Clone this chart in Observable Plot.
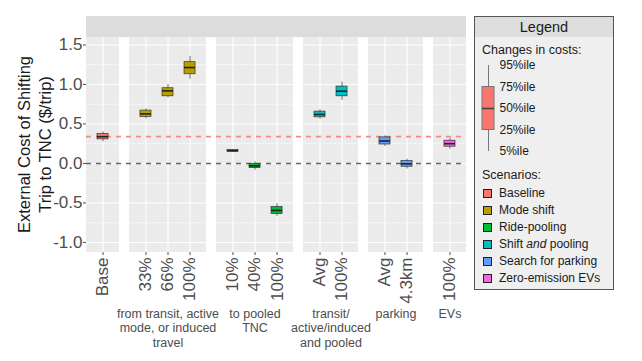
<!DOCTYPE html>
<html><head><meta charset="utf-8">
<script src="https://cdn.jsdelivr.net/npm/d3@7"></script>
<script src="https://cdn.jsdelivr.net/npm/@observablehq/plot@0.6"></script>
<style>
body{margin:0;background:#fff;font-family:"Liberation Sans",Arial,sans-serif;}
#wrap{position:relative;width:642px;height:361px;overflow:hidden;}
#chart{position:absolute;left:0;top:0;}
#legend{position:absolute;left:474px;top:16px;width:138px;height:272px;border:1px solid #555;background:#efefef;color:#1a1a1a;}
#legend .hd{position:absolute;left:0;top:0;width:138px;height:20px;background:#dedede;font-size:14.5px;line-height:20px;text-align:center;}
#legend .t{position:absolute;left:7px;font-size:12.5px;line-height:16px;white-space:nowrap;}
#legend .row{position:absolute;left:8px;font-size:12px;line-height:16px;white-space:nowrap;}
#legend .sw{display:inline-block;width:7px;height:7px;border:1.5px solid #222;vertical-align:-1px;margin-right:7px;}
#legend .gl{position:absolute;left:0;top:41px;}
</style></head><body>
<div id="wrap"><div id="chart"></div><div id="legend"></div></div>
<script>
// ---- data ----
const scenarioNames = ["Baseline","Mode shift","Ride-pooling","Shift and pooling","Search for parking","Zero-emission EVs"];
const scenarioLegend = ["Baseline","Mode shift","Ride-pooling","Shift <i>and</i> pooling","Search for parking","Zero-emission EVs"];
const scenarioColors = ["#F8766D","#B79F00","#00BA38","#00BFC4","#619CFF","#F564E3"];
const groupLabels = ["","from transit, active\nmode, or induced\ntravel","to pooled\nTNC","transit/\nactive/induced\nand pooled","parking","EVs"];
const scenario = ["Baseline","Mode shift","Mode shift","Mode shift","Ride-pooling","Ride-pooling","Ride-pooling","Shift and pooling","Shift and pooling","Search for parking","Search for parking","Zero-emission EVs"];
const tickLabels = ["Base","33%","66%","100%","10%","40%","100%","Avg","100%","Avg","4.3km","100%"];
const p5  = [0.275, 0.563, 0.830, 1.066, 0.145, -0.085, -0.670, 0.560, 0.800, 0.215, -0.070, 0.180];
const p25 = [0.305, 0.589, 0.850, 1.129, 0.150, -0.058, -0.640, 0.584, 0.850, 0.240, -0.042, 0.212];
const p50 = [0.339, 0.627, 0.919, 1.214, 0.160, -0.030, -0.595, 0.620, 0.915, 0.284, -0.005, 0.250];
const p75 = [0.373, 0.669, 0.952, 1.282, 0.170, -0.005, -0.550, 0.656, 0.973, 0.330, 0.030, 0.288];
const p95 = [0.400, 0.690, 0.999, 1.354, 0.175, 0.020, -0.510, 0.680, 1.030, 0.350, 0.055, 0.317];
const yTicks = [-1, -0.5, 0, 0.5, 1, 1.5];
const yMinor = [-0.75, -0.25, 0.25, 0.75, 1.25];
const percentileLabels = ["95%ile","75%ile","50%ile","25%ile","5%ile"];
const yTitle = "External Cost of Shifting\nTrip to TNC ($/trip)";

// ---- layout (facet-like panels on one linear x scale) ----
const EXPAND = 0.75, GAP = 0.45, BOXHALF = 0.25;
const yBottom = -1.127, panelTop = 1.593, stripTop = 1.86;
let cursor = 0;
const groups = scenarioNames.map((name, gi) => {
  const idx = scenario.map((s, i) => s === name ? i : -1).filter(i => i >= 0);
  const start = cursor, end = start + (idx.length - 1) + 2 * EXPAND;
  cursor = end + GAP;
  return {name, label: groupLabels[gi], idx, start, end, center: (start + end) / 2};
});
const xMax = cursor - GAP;
const rows = scenario.map((s, i) => {
  const g = groups.find(g => g.name === s);
  return {scenario: s, label: tickLabels[i], x: g.start + EXPAND + g.idx.indexOf(i),
          p5: p5[i], p25: p25[i], p50: p50[i], p75: p75[i], p95: p95[i]};
});
const labelAt = new Map(rows.map(r => [r.x, r.label]));
const gridMajor = groups.flatMap(g => yTicks.map(y => ({x1: g.start, x2: g.end, y})));
const gridMinor = groups.flatMap(g => yMinor.map(y => ({x1: g.start, x2: g.end, y})));

const chart = Plot.plot({
  width: 470, height: 361,
  marginLeft: 86, marginRight: 4, marginTop: 16, marginBottom: 109,
  style: {fontFamily: "'Liberation Sans', Arial, sans-serif", background: "transparent", overflow: "visible"},
  x: {domain: [0, xMax], axis: null},
  y: {domain: [yBottom, stripTop], axis: null},
  color: {domain: scenarioNames, range: scenarioColors},
  marks: [
    Plot.rect([0], {x1: 0, x2: xMax, y1: panelTop, y2: stripTop, fill: "#dcdcdc"}),
    Plot.rect(groups, {x1: "start", x2: "end", y1: yBottom, y2: panelTop, fill: "#ebebeb"}),
    Plot.ruleY(gridMinor, {x1: "x1", x2: "x2", y: "y", stroke: "#fff", strokeWidth: 0.6}),
    Plot.ruleY(gridMajor, {x1: "x1", x2: "x2", y: "y", stroke: "#fff", strokeWidth: 1.1}),
    Plot.ruleX(rows, {x: "x", y1: yBottom, y2: panelTop, stroke: "#fff", strokeWidth: 1.1}),
    Plot.ruleY([p50[0]], {stroke: "#f28b82", strokeWidth: 1.6, strokeDasharray: "5,5"}),
    Plot.ruleY([0], {stroke: "#666", strokeWidth: 1.4, strokeDasharray: "5,5"}),
    Plot.ruleX(rows, {x: "x", y1: "p5", y2: "p95", stroke: "#333", strokeWidth: 0.7}),
    Plot.rect(rows, {x1: d => d.x - BOXHALF, x2: d => d.x + BOXHALF, y1: "p25", y2: "p75", fill: "scenario", stroke: "#333", strokeWidth: 0.7}),
    Plot.ruleY(rows, {y: "p50", x1: d => d.x - BOXHALF, x2: d => d.x + BOXHALF, stroke: "#222", strokeWidth: 1.6}),
    Plot.axisY(yTicks, {tickFormat: d => d.toFixed(1), fontSize: 17, color: "#4d4d4d", tickSize: 3, tickPadding: 1, label: null}),
    Plot.axisX(rows.map(r => r.x), {tickFormat: d => labelAt.get(d), tickRotate: -90, fontSize: 17, color: "#4d4d4d", tickSize: 3, tickPadding: 2, label: null}),
    Plot.text(groups.filter(g => g.label), {x: "center", text: "label", frameAnchor: "bottom", lineAnchor: "top", dy: 55, fontSize: 12.5, fill: "#4d4d4d", lineHeight: 1.16}),
    Plot.text([yTitle], {text: d => d, frameAnchor: "left", textAnchor: "middle", lineAnchor: "middle", rotate: -90, dx: -53, dy: 10, fontSize: 16.5, fill: "#1a1a1a", lineHeight: 1.3})
  ]
});
document.getElementById("chart").appendChild(chart);

// ---- legend ----
const legend = document.getElementById("legend");
legend.innerHTML =
  `<div class="hd">Legend</div>` +
  `<div class="t" style="top:25px">Changes in costs:</div>` +
  `<div class="t" style="top:150px">Scenarios:</div>` +
  scenarioLegend.map((s, i) =>
    `<div class="row" style="top:${168 + i * 17}px"><span class="sw" style="background:${scenarioColors[i]}"></span>${s}</div>`).join("");
const glyph = Plot.plot({
  width: 136, height: 100, marginLeft: 7, marginRight: 117, marginTop: 7, marginBottom: 7,
  style: {fontFamily: "'Liberation Sans', Arial, sans-serif", background: "transparent", overflow: "visible"},
  x: {domain: [0, 1], axis: null},
  y: {domain: [0, percentileLabels.length - 1], axis: null},
  marks: [
    Plot.ruleX([0.5], {y1: 0, y2: 4, stroke: "#777", strokeWidth: 1}),
    Plot.rect([0], {x1: 0, x2: 1, y1: 1, y2: 3, fill: scenarioColors[0], stroke: "#777", strokeWidth: 1}),
    Plot.ruleY([2], {x1: 0, x2: 1, stroke: "#444", strokeWidth: 1.6}),
    Plot.text(percentileLabels, {x: 1, y: (d, i) => percentileLabels.length - 1 - i, text: d => d, dx: 5, textAnchor: "start", fontSize: 12, fill: "#1a1a1a"})
  ]
});
glyph.classList.add("gl");
legend.appendChild(glyph);
</script>
</body></html>
